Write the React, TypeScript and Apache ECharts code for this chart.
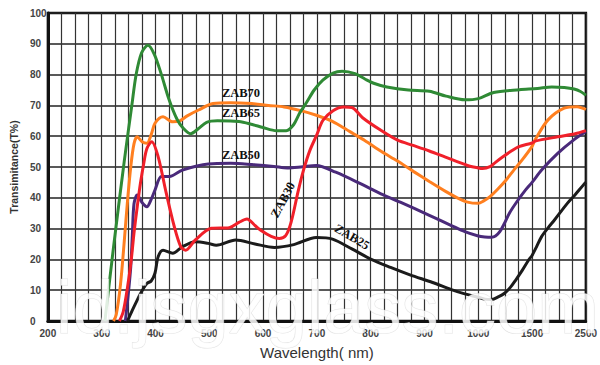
import React, { useEffect, useRef } from "react";
import * as echarts from "echarts";

// Axis: non-uniform wavelength scale, each labelled step takes the same width
const xTickNm = [200, 300, 400, 500, 600, 700, 800, 900, 1000, 1500, 2500];
const xTickLabels = ["200", "300", "400", "500", "600", "700", "800", "900", "1000", "1500", "2500"];

// [wavelength nm, transmittance %]
const zab65: [number, number][] = [
  [306, 0], [322, 24], [342, 52], [356, 70], [364, 80], [374, 87], [386, 89.5], [398, 86.5],
  [411, 80], [425, 72], [440, 65.5], [452, 62.5], [465, 60.8], [480, 62.5], [495, 64.5], [515, 65],
  [555, 64.8], [580, 63.8], [600, 62.8], [625, 61.8], [643, 61.8], [657, 63.8], [668, 67.5],
  [681, 71], [695, 75], [711, 78.2], [730, 80.5], [747, 81.1], [771, 80.3], [790, 78.5], [807, 77.1],
  [830, 76], [870, 75], [909, 74.6], [940, 73], [975, 71.8], [1000, 72.2], [1143, 74.2],
  [1382, 75.1], [1600, 75.5], [1865, 76], [2100, 75.8], [2280, 75.3], [2400, 74.5], [2500, 73.3],
];

const zab70: [number, number][] = [
  [322, 0], [327, 2], [335, 12], [342, 26], [348, 39], [354, 50], [360, 57.5], [366, 59.8],
  [375, 58.2], [384, 57.7], [392, 60.5], [399, 64.2], [414, 66.3], [432, 64.7], [445, 65],
  [459, 66.6], [480, 68.5], [507, 70.6], [540, 70.9], [579, 70.6], [610, 70], [639, 69.5],
  [670, 68.3], [699, 66.8], [727, 65], [747, 63], [768, 60.8], [789, 58.6], [820, 55], [849, 52],
  [880, 48.5], [909, 45.3], [940, 42], [961, 40], [980, 38.6], [1000, 38.2], [1050, 39],
  [1109, 40.4], [1180, 42.8], [1259, 45.8], [1330, 49], [1408, 52.3], [1500, 56.7], [1556, 58.8],
  [1796, 65.3], [2096, 69.1], [2335, 69.6], [2500, 68.7],
];

const zab30: [number, number][] = [
  [333, 0], [340, 3], [348, 11], [355, 20], [360, 28.5], [366, 37], [372, 44.7], [378, 51],
  [384, 56], [393, 58.2], [405, 53.3], [420, 41.5], [435, 30.6], [447, 24.1], [456, 23],
  [474, 26.3], [504, 30.1], [537, 30.3], [555, 32], [570, 33.1], [585, 31], [597, 29.3], [615, 27.5],
  [630, 26.8], [642, 27.7], [652, 32], [665, 42], [675, 48.9], [687, 55.4], [700, 60.5], [711, 65.1],
  [730, 68.3], [750, 69.5], [765, 69.3], [785, 66], [819, 61.9], [850, 58.7], [879, 57], [909, 55.2],
  [939, 53.2], [980, 50.5], [1000, 49.7], [1040, 49.5], [1109, 50.1], [1160, 51.5], [1229, 53.3],
  [1300, 55], [1378, 56.6], [1500, 57.8], [1556, 58.4], [1976, 59.8], [2300, 60.8], [2500, 61.8],
];

const zab50: [number, number][] = [
  [344, 0], [349, 8], [354, 17.6], [357, 28], [360, 38], [366, 40.9], [375, 38.5], [384, 37.1],
  [392, 39.5], [399, 42.5], [411, 46.9], [426, 46.9], [450, 49], [498, 51], [540, 51.2],
  [579, 50.8], [620, 50.2], [645, 49.7], [670, 50], [699, 50.5], [735, 48.3], [782, 44.5],
  [819, 41.3], [855, 38.6], [909, 34.3], [950, 31], [975, 29], [1000, 27.6], [1060, 27.3],
  [1124, 27.2], [1160, 27.6], [1200, 29], [1240, 31.5], [1289, 35], [1360, 38.8], [1438, 42.5],
  [1500, 45], [1677, 49], [1976, 54.4], [2275, 58.8], [2500, 61.5],
];

const zab25: [number, number][] = [
  [348, 0], [357, 3.5], [366, 6.8], [375, 9.8], [384, 12.2], [392, 13], [399, 15.5], [405, 20.9],
  [414, 23], [432, 22], [450, 24.1], [474, 25.7], [498, 25.2], [513, 24.6], [549, 26.3], [585, 25],
  [621, 23.9], [657, 24.8], [699, 27.1], [729, 26.6], [765, 23.4], [800, 20.1], [837, 17.4],
  [873, 15], [915, 12.5], [950, 10.2], [975, 8.8], [1000, 7.7], [1060, 7.1], [1124, 7.0],
  [1190, 7.9], [1244, 9], [1300, 11], [1348, 13.3], [1410, 16.5], [1468, 19.8], [1500, 21.3],
  [1580, 24], [1677, 27.4], [1800, 30.3], [1916, 32.8], [2155, 38.2], [2300, 41], [2455, 44.2],
  [2500, 45],
];

function nmToPos(nm: number): number {
  for (let i = 0; i < xTickNm.length - 1; i++) {
    if (nm <= xTickNm[i + 1]) {
      return i + (nm - xTickNm[i]) / (xTickNm[i + 1] - xTickNm[i]);
    }
  }
  return xTickNm.length - 1;
}

const toData = (arr: [number, number][]) => arr.map(([nm, t]) => [nmToPos(nm), t]);

const labelText = (text: string, x: number, y: number, rotation = 0) => ({
  type: "text",
  x,
  y,
  rotation,
  z: 50,
  style: {
    text,
    fill: "#111",
    font: 'bold 12.5px "Liberation Serif"',
    align: "center",
    verticalAlign: "middle",
    textAlign: "center",
    textVerticalAlign: "middle",
  },
});

export default function App() {
  const ref = useRef<HTMLDivElement>(null);
  useEffect(() => {
    document.body.style.margin = "0";
    const chart = echarts.init(ref.current!, null, { renderer: "svg" });
    const mk = (name: string, data: [number, number][], color: string, z: number) => ({
      name,
      type: "line",
      data: toData(data),
      smooth: 0.3,
      showSymbol: false,
      symbol: "none",
      z,
      lineStyle: { color, width: 3 },
    });
    chart.setOption({
      animation: false,
      backgroundColor: "#ffffff",
      grid: {
        left: 36,
        right: 7.5,
        top: 13,
        bottom: 44,
        show: true,
        borderColor: "#111",
        borderWidth: 2.5,
      },
      xAxis: {
        type: "value",
        min: 0,
        max: 10,
        interval: 1,
        axisLine: { show: true, lineStyle: { color: "#111", width: 3 } },
        axisTick: { show: false },
        axisLabel: {
          formatter: (v: number) => xTickLabels[Math.round(v)],
          color: "#444",
          fontSize: 10,
          fontWeight: "bold",
          fontFamily: "Liberation Sans",
          margin: 7,
          showMinLabel: true,
          showMaxLabel: true,
        },
        splitLine: { show: true, lineStyle: { color: "#333", width: 1.2 } },
        minorTick: { show: false, splitNumber: 4 },
        minorSplitLine: { show: true, lineStyle: { color: "#333", width: 1.2 } },
        name: "Wavelength( nm)",
        nameLocation: "middle",
        nameGap: 24,
        nameTextStyle: { fontSize: 15, color: "#333", fontFamily: "Liberation Sans" },
      },
      yAxis: {
        type: "value",
        min: 0,
        max: 100,
        interval: 10,
        axisLine: { show: true, lineStyle: { color: "#111", width: 3 } },
        axisTick: { show: false },
        axisLabel: {
          color: "#444",
          fontSize: 10,
          fontWeight: "bold",
          fontFamily: "Liberation Sans",
          align: "left",
          margin: 18,
        },
        splitLine: { show: true, lineStyle: { color: "#222", width: 1.5 } },
        name: "Transimitance(T%)",
        nameLocation: "middle",
        nameGap: 25,
        nameTextStyle: { fontSize: 10.5, fontWeight: "bold", color: "#333", fontFamily: "Liberation Sans" },
      },
      series: [
        mk("ZAB70", zab70, "#ff7f1f", 3),
        mk("ZAB65", zab65, "#2f8a35", 4),
        mk("ZAB50", zab50, "#4a2a7a", 2),
        mk("ZAB30", zab30, "#f0202a", 5),
        mk("ZAB25", zab25, "#1b1b1b", 2),
      ],
      graphic: [
        labelText("ZAB70", 241, 93),
        labelText("ZAB65", 241, 113),
        labelText("ZAB50", 241, 155),
        labelText("ZAB30", 283, 200, 1.08),
        labelText("ZAB25", 352, 237, -0.53),
        {
          type: "text",
          x: 56,
          y: 307,
          z: 100,
          silent: true,
          style: {
            text: "id.jsgxglass.com",
            font: '74px "Liberation Sans"',
            fill: "rgba(255,255,255,0.85)",
            stroke: "rgba(200,200,200,0.5)",
            lineWidth: 1,
            align: "left",
            verticalAlign: "middle",
            textAlign: "left",
            textVerticalAlign: "middle",
          },
        },
      ],
    });
    return () => chart.dispose();
  }, []);
  return (
    <div
      ref={ref}
      style={{ width: 600, height: 365, position: "absolute", left: 0, top: 0 }}
    />
  );
}
